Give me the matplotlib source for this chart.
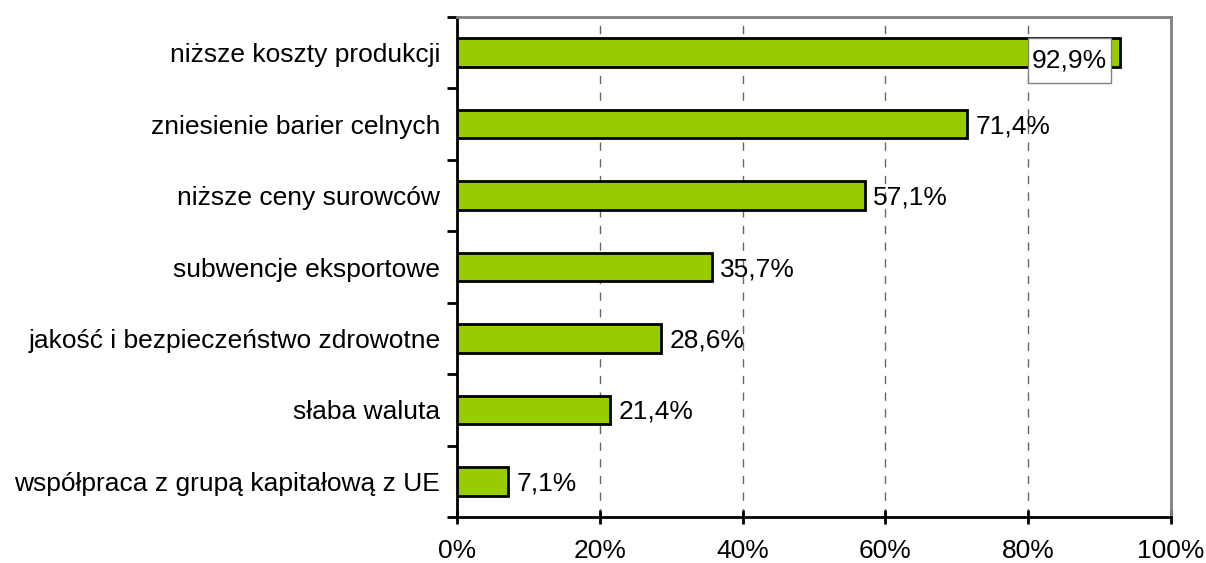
import numpy as np
import matplotlib.pyplot as plt
from matplotlib.ticker import FixedLocator
from matplotlib.patches import Rectangle

plt.rcParams['font.family'] = ['Liberation Sans', 'DejaVu Sans']

categories = ["niższe koszty produkcji", "zniesienie barier celnych", "niższe ceny surowców",
              "subwencje eksportowe", "jakość i bezpieczeństwo zdrowotne", "słaba waluta",
              "współpraca z grupą kapitałową z UE"]
values = [92.9, 71.4, 57.1, 35.7, 28.6, 21.4, 7.1]
labels = ["92,9%", "71,4%", "57,1%", "35,7%", "28,6%", "21,4%", "7,1%"]
xticks = [0, 20, 40, 60, 80, 100]

fig = plt.figure(figsize=(12.06, 5.63), dpi=100)
ax = fig.add_axes([457 / 1206, 1 - 517 / 563, (1171 - 457) / 1206, 500 / 563])

y = np.arange(len(categories))[::-1]
ax.barh(y, values, height=0.4, color="#99CC00", edgecolor="black", linewidth=2, zorder=3)

fs = 19
for yi, v, lab in zip(y, values, labels):
    if v > 90:
        # framed label drawn over the bar end
        ax.add_patch(Rectangle((v - 12.9, yi - 0.42), 11.6, 0.63, fc="white", ec="#808080",
                               lw=1, zorder=4))
        ax.text(v - 7.1, yi - 0.11, lab, ha="center", va="center", fontsize=fs, zorder=5)
    else:
        ax.text(v + 1.2, yi - 0.03, lab, ha="left", va="center", fontsize=fs, zorder=4)

ax.set_xlim(0, 100)
ax.set_ylim(-0.5, len(categories) - 0.5)
ax.set_xticks(xticks)
ax.set_xticklabels([f"{t}%" for t in xticks], fontsize=fs)
ax.set_yticks(y)
ax.set_yticklabels(categories, fontsize=fs)
ax.yaxis.set_minor_locator(FixedLocator(np.arange(-0.5, len(categories), 1.0)))
ax.tick_params(axis="y", which="major", length=0, pad=12)
ax.tick_params(axis="y", which="minor", length=7, width=2, direction="out")
ax.tick_params(axis="x", length=10, width=2, direction="inout", pad=11)

for xv in xticks[1:-1]:
    ax.axvline(xv, color="#666666", linestyle=(0, (6, 6)), linewidth=1, zorder=1)

ax.spines["left"].set_linewidth(2)
ax.spines["bottom"].set_linewidth(2)
for s in ["top", "right"]:
    ax.spines[s].set_color("#808080")
    ax.spines[s].set_linewidth(2)

fig.savefig("out.png", dpi=100)
